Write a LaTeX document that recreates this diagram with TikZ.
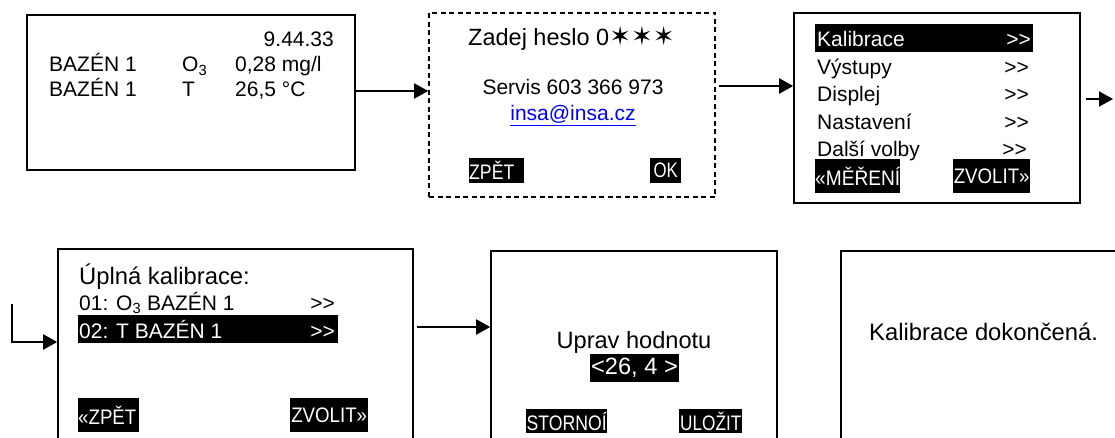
\documentclass[tikz,border=0pt]{standalone}
\usepackage{fontspec}
\setmainfont{Liberation Sans}
\newfontfamily\symfont{DejaVu Sans}
\usepackage{graphicx}
\usetikzlibrary{arrows.meta}
\newcommand\nrw[2]{\scalebox{#1}[1]{#2}}
\newcommand\dgt{\mbox{>}\mbox{>}}
\definecolor{linkblue}{RGB}{0,0,255}
\begin{document}
\begin{tikzpicture}[x=1pt,y=-1pt,
  screen/.style={draw, line width=1.6pt, rectangle, inner sep=0pt},
  txt/.style={inner sep=0pt, font=\fontsize{21}{25}\selectfont},
  bigtxt/.style={inner sep=0pt, font=\fontsize{23.8}{28}\selectfont},
  wtxt/.style={txt, text=white},
  btn/.style={fill=black, text=white, inner sep=0pt, anchor=north west, font=\fontsize{21}{25}\selectfont},
  arr/.style={line width=2pt, -{Triangle[length=14pt,width=15pt]}}]
\useasboundingbox (0,0) rectangle (1115,438);
\clip (0,0) rectangle (1115,438);

% screens
\node[screen, minimum width=328pt, minimum height=155pt] (b1) at (191,92.5) {};
\node[screen, dash pattern=on 5pt off 3.5pt, minimum width=286pt, minimum height=184pt] (b2) at (572,105) {};
\node[screen, minimum width=286pt, minimum height=190pt] (b3) at (937,108) {};
\node[screen, minimum width=355pt, minimum height=211pt] (b4) at (235.5,354.5) {};
\node[screen, minimum width=286pt, minimum height=209pt] (b5) at (634,355.5) {};
\node[screen, minimum width=330pt, minimum height=209pt] (b6) at (1006,355.5) {};

% screen 1
\node[txt, anchor=base east] (t1) at (334,47) {9.44.33};
\node[txt, anchor=base west] (t2) at (49,72) {BAZÉN 1};
\node[txt, anchor=base west] (t3) at (182,72) {O\textsubscript{3}};
\node[txt, anchor=base west] (t4) at (235,72) {0,28 mg/l};
\node[txt, anchor=base west] (t5) at (49,97) {BAZÉN 1};
\node[txt, anchor=base west] (t6) at (182,97) {T};
\node[txt, anchor=base west] (t7) at (235,97) {26,5 °C};

% screen 2
\node[inner sep=0pt, anchor=base west, font=\fontsize{23.5}{28}\selectfont] (p1) at (468,46) {Zadej heslo 0{\symfont\fontsize{26}{28}\selectfont ✶✶✶}};
\node[txt, anchor=base] (p2) at (573,95) {Servis 603 366 973};
\node[txt, anchor=base, text=linkblue] (p3) at (573,121) {\underline{insa@insa.cz}};
\node[btn, minimum width=55pt, text width=55pt, align=left, minimum height=25pt] (p4) at (469,158) {\nrw{0.84}{ZPĚT}};
\node[btn, minimum width=31pt, text width=31pt, align=center, minimum height=25pt] (p5) at (650,158) {\nrw{0.8}{OK}};

% screen 3
\node[fill=black, inner sep=0pt, minimum width=218pt, minimum height=28pt, anchor=north west] (hk) at (815,24) {};
\node[wtxt, anchor=base west] (m1) at (817,47) {Kalibrace};
\node[wtxt, anchor=base east] (m1r) at (1031,47) {\dgt};
\node[txt, anchor=base west] (m2) at (817,74.5) {Výstupy};
\node[txt, anchor=base east] (m2r) at (1029,74.5) {\dgt};
\node[txt, anchor=base west] (m3) at (817,102) {Displej};
\node[txt, anchor=base east] (m3r) at (1029,102) {\dgt};
\node[txt, anchor=base west] (m4) at (817,129.5) {Nastavení};
\node[txt, anchor=base east] (m4r) at (1029,129.5) {\dgt};
\node[txt, anchor=base west] (m5) at (817,157) {Další volby};
\node[txt, anchor=base east] (m5r) at (1027,157) {\dgt};
\node[btn, minimum width=85pt, text width=85pt, align=left, minimum height=34pt] (m6) at (815,159) {\nrw{0.91}{«MĚŘENÍ}};
\node[btn, minimum width=77pt, text width=77pt, align=center, minimum height=34pt] (m7) at (953,159) {\nrw{0.89}{ZVOLIT»}};

% screen 4
\node[bigtxt, anchor=base west] (u1) at (79,284) {Úplná kalibrace:};
\node[txt, anchor=base west] (u2) at (79,310) {01: O\textsubscript{3} BAZÉN 1};
\node[txt, anchor=base east] (u2r) at (335,310) {\dgt};
\node[fill=black, inner sep=0pt, minimum width=260pt, minimum height=28pt, anchor=north west] (hu) at (78,315) {};
\node[wtxt, anchor=base west] (u3) at (79,338) {02: T BAZÉN 1};
\node[wtxt, anchor=base east] (u3r) at (335,338) {\dgt};
\node[btn, minimum width=61pt, text width=61pt, align=left, minimum height=34pt] (u4) at (78,398) {\nrw{0.89}{«ZPĚT}};
\node[btn, minimum width=78pt, text width=78pt, align=center, minimum height=34pt] (u5) at (290,398) {\nrw{0.89}{ZVOLIT»}};

% screen 5
\node[inner sep=0pt, anchor=base, font=\fontsize{23.6}{28}\selectfont] (v1) at (634,348) {Uprav hodnotu};
\node[fill=black, text=white, inner sep=0pt, minimum width=89pt, minimum height=28pt, font=\fontsize{23.6}{28}\selectfont] (v2) at (634.5,368) {<26, 4 >};
\node[btn, minimum width=81pt, text width=81pt, align=center, minimum height=24pt] (v3) at (526,409) {\nrw{0.84}{STORNOÍ}};
\node[btn, minimum width=63pt, text width=63pt, align=center, minimum height=24pt] (v4) at (679,409) {\nrw{0.82}{ULOŽIT}};

% screen 6
\node[bigtxt, anchor=base west] (w1) at (869,340) {Kalibrace dokončená.};

% connectors
\coordinate (y91) at (0,91);
\coordinate (y86) at (0,86);
\coordinate (y342) at (0,342);
\coordinate (y327) at (0,327);
\coordinate (out3) at (1113,99);
\coordinate (in4) at (12,304);
\draw[arr] (b1.east |- y91) -- (b2.west |- y91);
\draw[arr, shorten <=3pt] (b2.east |- y86) -- (b3.west |- y86);
\draw[arr, shorten <=5pt] (b3.east |- out3) -- (out3);
\draw[arr] (in4) |- (b4.west |- y342);
\draw[arr, shorten <=3pt] (b4.east |- y327) -- (b5.west |- y327);
\end{tikzpicture}
\end{document}
